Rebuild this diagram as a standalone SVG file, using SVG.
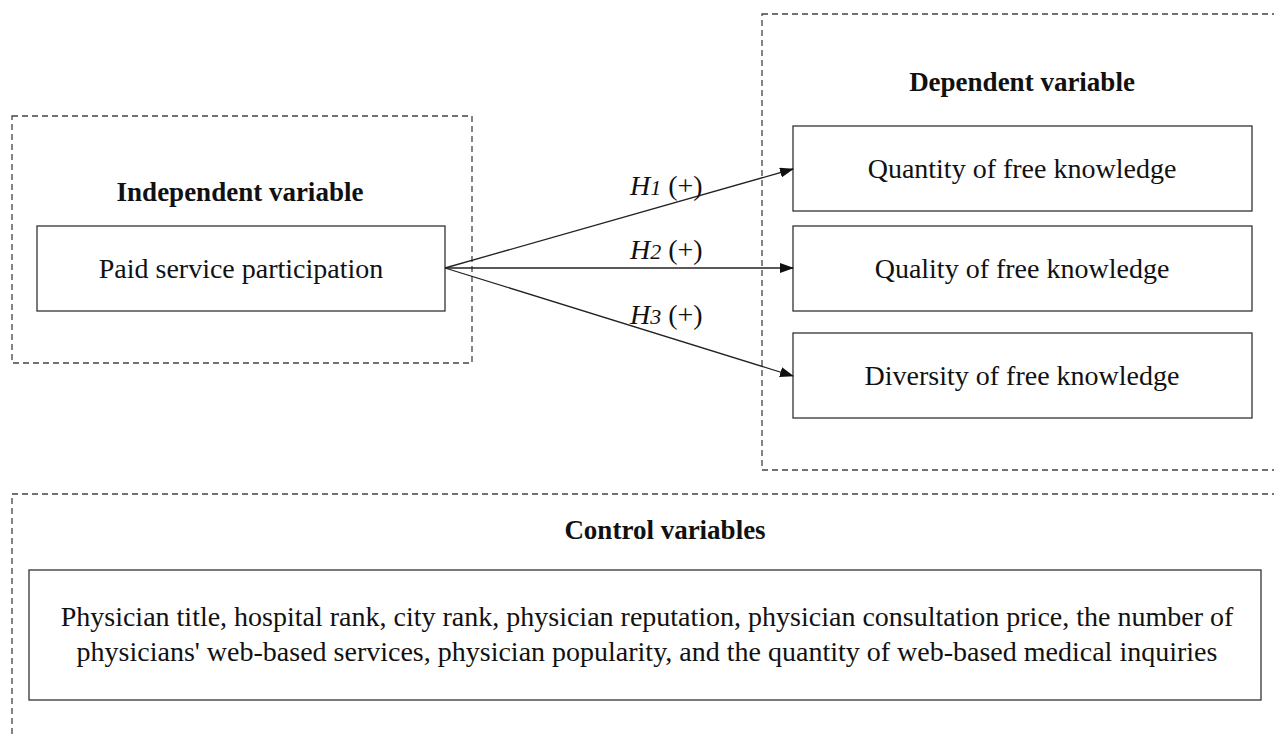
<svg xmlns="http://www.w3.org/2000/svg" width="1274" height="736" viewBox="0 0 1274 736">
<style>
.dash{fill:none;stroke:#444;stroke-width:1.3;stroke-dasharray:6,4}
.box{fill:#fff;stroke:#333;stroke-width:1.3}
.t{font-family:"Liberation Serif","Times New Roman",serif;font-size:28px;fill:#111;text-anchor:middle}
.h{font-family:"Liberation Serif","Times New Roman",serif;font-size:27px;font-weight:bold;fill:#111;text-anchor:middle}
.lab{font-family:"Liberation Serif","Times New Roman",serif;font-size:28px;fill:#111}
.conn{stroke:#222;stroke-width:1.3;fill:none;marker-end:url(#ah)}
</style>
<defs>
<marker id="ah" markerWidth="14" markerHeight="10" refX="13" refY="5" orient="auto" markerUnits="userSpaceOnUse">
<path d="M0,0 L14,5 L0,10 Z" fill="#111"/>
</marker>
</defs>
<rect width="1274" height="736" fill="#fff"/>
<g id="independent">
<rect class="dash" x="12" y="116" width="460" height="247"/>
<text class="h" x="240" y="201">Independent variable</text>
</g>
<g id="paid">
<rect class="box" x="37" y="226" width="408" height="85"/>
<text class="t" x="241" y="278">Paid service participation</text>
</g>
<g id="dependent">
<rect class="dash" x="762" y="14" width="530" height="456"/>
<text class="h" x="1022" y="91">Dependent variable</text>
</g>
<g id="quantity">
<rect class="box" x="793" y="126" width="459" height="85"/>
<text class="t" x="1022" y="178">Quantity of free knowledge</text>
</g>
<g id="quality">
<rect class="box" x="793" y="226" width="459" height="85"/>
<text class="t" x="1022" y="278">Quality of free knowledge</text>
</g>
<g id="diversity">
<rect class="box" x="793" y="333" width="459" height="85"/>
<text class="t" x="1022" y="385">Diversity of free knowledge</text>
</g>
<g id="control">
<rect class="dash" x="12" y="494" width="1290" height="260"/>
<text class="h" x="665" y="539">Control variables</text>
</g>
<g id="control-list">
<rect class="box" x="29" y="570" width="1232" height="130"/>
<text class="t" x="647" y="626">Physician title, hospital rank, city rank, physician reputation, physician consultation price, the number of</text>
<text class="t" x="647" y="661">physicians' web-based services, physician popularity, and the quantity of web-based medical inquiries</text>
</g>
<g id="connectors">
<line class="conn" x1="445" y1="268" x2="793" y2="169"/>
<line class="conn" x1="445" y1="268" x2="793" y2="268"/>
<line class="conn" x1="445" y1="268" x2="793" y2="376"/>
<text class="lab" x="630" y="195"><tspan font-style="italic">H</tspan><tspan font-style="italic" font-size="22">1</tspan> (+)</text>
<text class="lab" x="630" y="259"><tspan font-style="italic">H</tspan><tspan font-style="italic" font-size="22">2</tspan> (+)</text>
<text class="lab" x="630" y="324"><tspan font-style="italic">H</tspan><tspan font-style="italic" font-size="22">3</tspan> (+)</text>
</g>
</svg>
